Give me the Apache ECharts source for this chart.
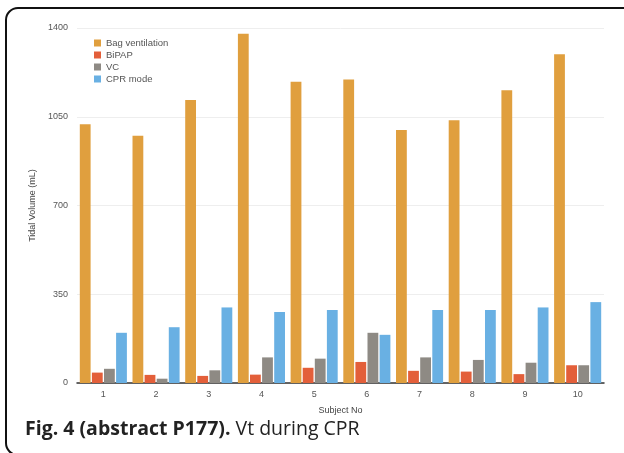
<!DOCTYPE html>
<html><head><meta charset="utf-8">
<script src="https://cdn.jsdelivr.net/npm/echarts@6/dist/echarts.min.js"></script>
<style>html,body{margin:0;padding:0;background:#fff}#c{width:624px;height:453px}</style>
</head><body><div id="c"></div>
<script>
const categories = ['1','2','3','4','5','6','7','8','9','10'];
const bagVentilation = [1020, 975, 1116, 1377, 1188, 1197, 998, 1036, 1155, 1296];
const bipap = [41, 32, 28, 33, 60, 83, 48, 45, 35, 70];
const vc = [56, 17, 50, 101, 96, 198, 101, 91, 80, 70];
const cprMode = [198, 220, 298, 280, 288, 190, 288, 288, 298, 319];
const yTicks = [0, 350, 700, 1050, 1400];

const chart = echarts.init(document.getElementById('c'), null, {renderer:'canvas'});
const lab = {fontFamily:'Liberation Sans, Arial, sans-serif', fontSize:9, color:'#555'};
function s(name, data, color){
  return {name, type:'bar', data, barWidth:10.8, barGap:'12%', itemStyle:{color}};
}
chart.setOption({
  animation:false,
  backgroundColor:'#fff',
  graphic:[{type:'rect', shape:{x:6,y:8,width:660,height:447,r:12}, style:{fill:'none', stroke:'#111', lineWidth:2}, z:100}],
  title:{text:'{b|Fig. 4 (abstract P177).}{r| Vt during CPR}', left:20, top:414,
    textStyle:{rich:{b:{fontFamily:'Open Sans', fontWeight:'bold', fontSize:19.5, color:'#222'},
                     r:{fontFamily:'Open Sans', fontWeight:'normal', fontSize:19.5, color:'#222'}}}},
  legend:{orient:'vertical', left:89, top:33, itemWidth:7, itemHeight:7, itemGap:2, icon:'rect',
    textStyle:Object.assign({}, lab, {fontSize:9.5, lineHeight:9, padding:[0,0,0,0]}),
    data:['Bag ventilation','BiPAP','VC','CPR mode']},
  grid:{left:77, right:20, top:28, bottom:70},
  xAxis:{type:'category', data:categories, name:'Subject No', nameLocation:'middle', nameGap:23,
    nameTextStyle:Object.assign({}, lab, {fontSize:9, color:'#444'}),
    axisLine:{lineStyle:{color:'#333', width:1.5}}, axisTick:{show:false},
    axisLabel:Object.assign({}, lab, {margin:7})},
  yAxis:{type:'value', min:0, max:1400, interval:350, name:'Tidal Volume (mL)', nameLocation:'middle', nameGap:36,
    nameTextStyle:Object.assign({}, lab, {color:'#444'}),
    axisLine:{show:false}, axisTick:{show:false},
    axisLabel:Object.assign({}, lab, {margin:9, formatter:v=>String(v)}),
    splitLine:{lineStyle:{color:'#eeeeee', width:1}}},
  series:[s('Bag ventilation', bagVentilation, '#E09F3E'), s('BiPAP', bipap, '#E35F3A'),
          s('VC', vc, '#8E8A84'), s('CPR mode', cprMode, '#69B0E3')]
});
</script></body></html>
